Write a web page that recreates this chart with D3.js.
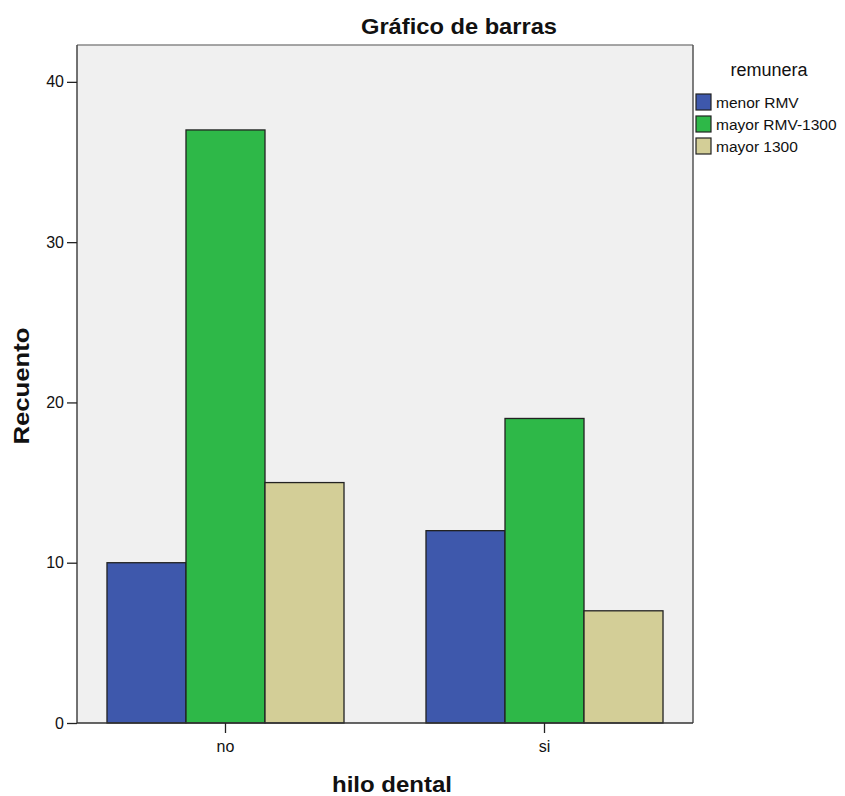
<!DOCTYPE html>
<html><head><meta charset="utf-8">
<script src="https://cdn.jsdelivr.net/npm/d3@7"></script>
<style>body{margin:0;background:#fff;} text{font-family:Arial,"Liberation Sans",sans-serif;}</style>
</head><body>
<svg id="c" width="845" height="796"></svg>
<script>
const categories = ["no", "si"];
const seriesNames = ["menor RMV", "mayor RMV-1300", "mayor 1300"];
const menorRMV = [10, 12];
const mayorRMV1300 = [37, 19];
const mayor1300 = [15, 7];
const yTicks = [0, 10, 20, 30, 40];
const colors = ["#3e58ac", "#2eb848", "#d3ce97"];

const seriesValues = [menorRMV, mayorRMV1300, mayor1300];
const svg = d3.select("#c");
const L = 77, R = 693, T = 45, B = 723;
const FF = "Arial, 'Liberation Sans', sans-serif";

svg.append("rect").attr("x", L).attr("y", T).attr("width", R - L).attr("height", B - T)
  .attr("fill", "#f0f0f0");

const y = d3.scaleLinear().domain([0, 42.3]).range([B, T]);
const x0 = d3.scaleBand().domain(categories).range([L, R]).paddingInner(0.257).paddingOuter(0.094);
const x1 = d3.scaleBand().domain(seriesNames).range([0, x0.bandwidth()]);

categories.forEach((c, ci) => {
  seriesNames.forEach((s, si) => {
    const v = seriesValues[si][ci];
    svg.append("rect")
      .attr("x", x0(c) + x1(s)).attr("y", y(v))
      .attr("width", x1.bandwidth()).attr("height", y(0) - y(v))
      .attr("fill", colors[si]).attr("stroke", "#222").attr("stroke-width", 1.3);
  });
});

// frame
svg.append("line").attr("x1", L).attr("x2", R).attr("y1", T).attr("y2", T).attr("stroke", "#888").attr("stroke-width", 1.5);
svg.append("line").attr("x1", R).attr("x2", R).attr("y1", T).attr("y2", B).attr("stroke", "#555").attr("stroke-width", 1.5);

const yAxis = svg.append("g").attr("transform", `translate(${L},0)`)
  .call(d3.axisLeft(y).tickValues(yTicks).tickSize(10).tickPadding(3).tickSizeOuter(0));
yAxis.select(".domain").attr("stroke", "#444").attr("stroke-width", 1.5).attr("d", `M0,${T}V${B}`);
yAxis.selectAll(".tick line").attr("stroke", "#222").attr("stroke-width", 1.3);
yAxis.selectAll(".tick text").attr("font-size", 16).attr("fill", "#111").attr("font-family", FF);

const xAxis = svg.append("g").attr("transform", `translate(0,${B})`)
  .call(d3.axisBottom(x0).tickSize(10).tickSizeOuter(0));
xAxis.select(".domain").attr("stroke", "#333").attr("stroke-width", 1.5).attr("d", `M${L},0H${R}`);
xAxis.selectAll(".tick line").attr("stroke", "#222").attr("stroke-width", 1.3);
xAxis.selectAll(".tick text").attr("font-size", 16).attr("fill", "#111")
  .attr("font-family", FF).attr("y", 29).attr("dy", 0);

svg.append("text").attr("x", 459).attr("y", 34).attr("text-anchor", "middle")
  .attr("font-size", 22).attr("font-weight", "bold").attr("fill", "#111")
  .attr("textLength", 196).attr("lengthAdjust", "spacingAndGlyphs").text("Gráfico de barras");
svg.append("text").attr("x", 392).attr("y", 792).attr("text-anchor", "middle")
  .attr("font-size", 22).attr("font-weight", "bold").attr("fill", "#111")
  .attr("textLength", 120).attr("lengthAdjust", "spacingAndGlyphs").text("hilo dental");
svg.append("text").attr("transform", "translate(29,386) rotate(-90)").attr("text-anchor", "middle")
  .attr("font-size", 22).attr("font-weight", "bold").attr("fill", "#111")
  .attr("textLength", 117).attr("lengthAdjust", "spacingAndGlyphs").text("Recuento");

// legend
svg.append("text").attr("x", 769).attr("y", 76).attr("text-anchor", "middle")
  .attr("font-size", 18).attr("fill", "#111").text("remunera");
const lg = svg.append("g");
seriesNames.forEach((s, i) => {
  const yy = 94 + i * 22;
  lg.append("rect").attr("x", 696).attr("y", yy).attr("width", 15).attr("height", 16)
    .attr("fill", colors[i]).attr("stroke", "#222").attr("stroke-width", 1.2);
  lg.append("text").attr("x", 716).attr("y", yy + 14).attr("font-size", 15.5).attr("fill", "#111").text(s);
});
</script>
</body></html>
